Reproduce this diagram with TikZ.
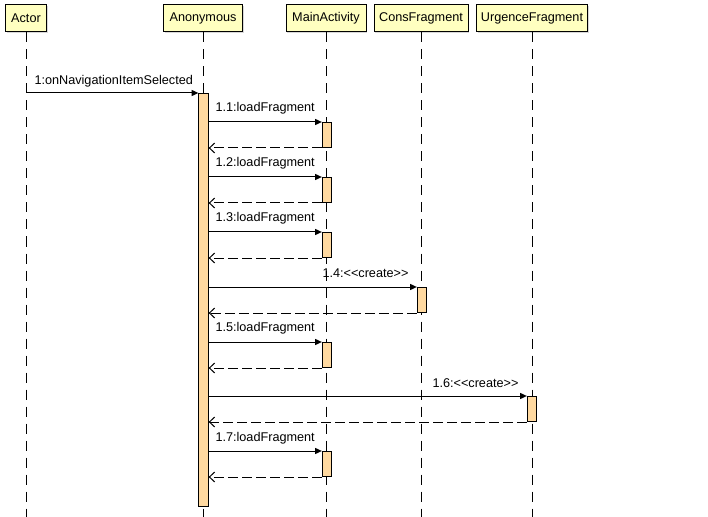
\documentclass[tikz,border=0pt]{standalone}
\usepackage{fontspec}
\setmainfont{Liberation Sans}
\usetikzlibrary{arrows.meta,shadows}
\definecolor{headfill}{HTML}{FFFFC0}
\definecolor{barfill}{HTML}{FFD9A0}
\begin{document}
\begin{tikzpicture}[x=0.75pt,y=-0.75pt,line width=0.75pt,
  head/.style={draw=black,fill=headfill,minimum height=20.25pt,inner sep=0pt,font=\fontsize{9.5}{11}\selectfont,drop shadow={shadow xshift=0.8pt,shadow yshift=-0.8pt,fill=black!30}},
  bar/.style={draw=black,fill=barfill,minimum width=7pt,minimum height=18.75pt,inner sep=0pt,anchor=north},
  life/.style={dash pattern=on 7.5pt off 5.25pt},
  call/.style={-{Triangle[length=5pt,width=4.5pt]}},
  ret/.style={dash pattern=on 7.5pt off 3pt,-{Straight Barb[length=4pt,width=7.5pt]}},
  lbl/.style={anchor=west,inner sep=0pt,font=\fontsize{9.5}{11}\selectfont}]
		\useasboundingbox (0,0) rectangle (708,517);
		
		\node[head,minimum width=30.75pt] (actor) at (26,18.5) {Actor};
		\node[head,minimum width=59.25pt] (anon) at (203,18.5) {Anonymous};
		\node[head,minimum width=60pt] (main) at (326,18.5) {MainActivity};
		\node[head,minimum width=70.5pt] (cons) at (421,18.5) {ConsFragment};
		\node[head,minimum width=83.25pt] (urg) at (532,18.5) {UrgenceFragment};
		
		\coordinate (bottom) at (0,517);
		\draw[life] (actor.south) -- (actor.south |- bottom);
		\draw[life] (anon.south) -- (anon.south |- bottom);
		\draw[life] (main.south) -- (main.south |- bottom);
		\draw[life] (cons.south) -- (cons.south |- bottom);
		\draw[life] (urg.south) -- (urg.south |- bottom);
		
		\node[bar,minimum height=309.75pt] (anonbar) at (203.5,93) {};
		\node[bar] (ma1) at (327,122) {};
		\node[bar] (ma2) at (327,177) {};
		\node[bar] (ma3) at (327,232) {};
		\node[bar] (cf) at (422,287) {};
		\node[bar] (ma5) at (327,342) {};
		\node[bar] (uf) at (532,396) {};
		\node[bar] (ma7) at (327,451) {};
		
		\node[lbl] (m1) at (34,81.5) {1:onNavigationItemSelected};
		\node[lbl] (m11) at (215,108.5) {1.1:loadFragment};
		\node[lbl] (m12) at (215,163.5) {1.2:loadFragment};
		\node[lbl] (m13) at (215,218.5) {1.3:loadFragment};
		\node[lbl] (m14) at (322,273.5) {1.4:<\kern0pt<create>\kern0pt>};
		\node[lbl] (m15) at (215,328.5) {1.5:loadFragment};
		\node[lbl] (m16) at (432,383.5) {1.6:<\kern0pt<create>\kern0pt>};
		\node[lbl] (m17) at (215,438.5) {1.7:loadFragment};
		
		\draw[call] (actor.south |- anonbar.north) -- (anonbar.north west);
		\draw[call] (anonbar.east |- ma1.north) -- (ma1.north west);
		\draw[ret] (ma1.south west) -- (anonbar.east |- ma1.south);
		\draw[call] (anonbar.east |- ma2.north) -- (ma2.north west);
		\draw[ret] (ma2.south west) -- (anonbar.east |- ma2.south);
		\draw[call] (anonbar.east |- ma3.north) -- (ma3.north west);
		\draw[ret] (ma3.south west) -- (anonbar.east |- ma3.south);
		\draw[call] (anonbar.east |- cf.north) -- (cf.north west);
		\draw[ret] (cf.south west) -- (anonbar.east |- cf.south);
		\draw[call] (anonbar.east |- ma5.north) -- (ma5.north west);
		\draw[ret] (ma5.south west) -- (anonbar.east |- ma5.south);
		\draw[call] (anonbar.east |- uf.north) -- (uf.north west);
		\draw[ret] (uf.south west) -- (anonbar.east |- uf.south);
		\draw[call] (anonbar.east |- ma7.north) -- (ma7.north west);
		\draw[ret] (ma7.south west) -- (anonbar.east |- ma7.south);
		
		\end{tikzpicture}
\end{document}
